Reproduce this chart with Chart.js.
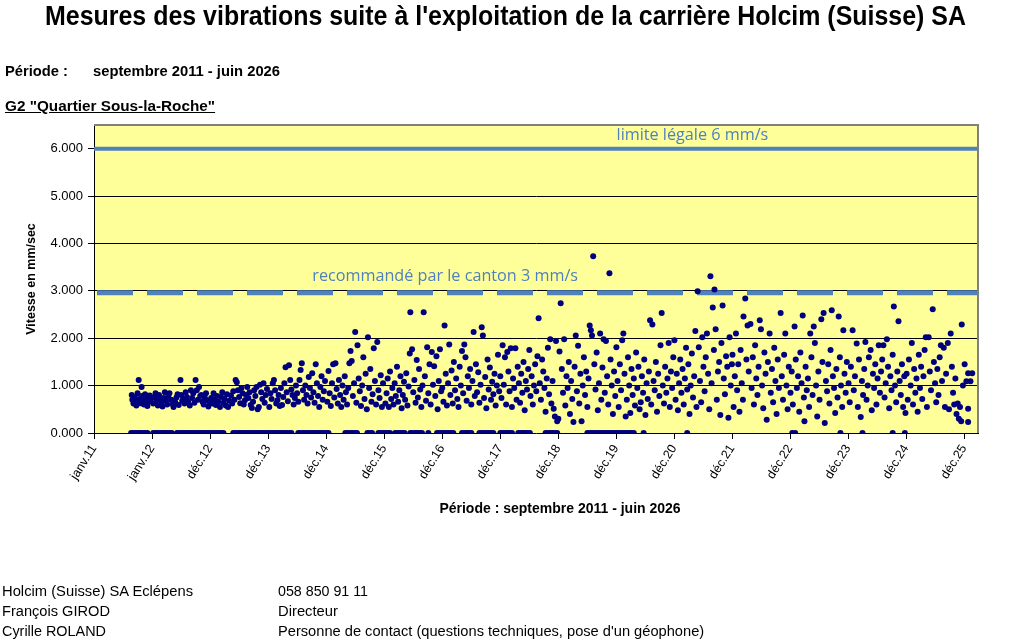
<!DOCTYPE html>
<html><head><meta charset="utf-8">
<script src="https://cdn.jsdelivr.net/npm/chart.js@4.4.1/dist/chart.umd.min.js"></script>
<style>
html,body{margin:0;padding:0;background:#fff;width:1009px;height:639px;overflow:hidden;font-family:"Liberation Sans",Arial,sans-serif;}
#wrap{position:relative;width:1009px;height:639px;}
#c{position:absolute;left:0;top:0;}
.t{position:absolute;white-space:nowrap;color:#000;transform-origin:0 50%;line-height:1;}
.b{font-weight:bold;}
</style></head>
<body><div id="wrap">
<canvas id="c" width="1009" height="639"></canvas>
<div class="t b fit" data-w="921" style="left:45px;top:3px;font-size:27px;font-family:'Liberation Sans Narrow','Liberation Sans',Arial;">Mesures des vibrations suite à l'exploitation de la carrière Holcim (Suisse) SA</div>
<div class="t b fit" data-w="63" style="left:5px;top:64px;font-size:14px;">Période :</div>
<div class="t b fit" data-w="187" style="left:93px;top:64px;font-size:14px;">septembre 2011 - juin 2026</div>
<div class="t b fit" data-w="210" style="left:5px;top:99px;font-size:14px;text-decoration:underline;">G2 "Quartier Sous-la-Roche"</div>
<div class="t fit" data-w="191" style="left:2px;top:584px;font-size:14px;">Holcim (Suisse) SA Eclépens</div>
<div class="t fit" data-w="108" style="left:2px;top:604px;font-size:14px;">François GIROD</div>
<div class="t fit" data-w="104" style="left:2px;top:624px;font-size:14px;">Cyrille ROLAND</div>
<div class="t fit" data-w="90" style="left:278px;top:584px;font-size:14px;">058 850 91 11</div>
<div class="t fit" data-w="60" style="left:278px;top:604px;font-size:14px;">Directeur</div>
<div class="t fit" data-w="426" style="left:278px;top:624px;font-size:14px;">Personne de contact (questions techniques, pose d'un géophone)</div>
</div>
<script>
// ---- DATA (x = date in decimal years, y = vitesse mm/s) ----
const xTickLabels = ['janv.11','janv.12','déc.12','déc.13','déc.14','déc.15','déc.16','déc.17','déc.18','déc.19','déc.20','déc.21','déc.22','déc.23','déc.24','déc.25'];
const xAxisTitle = 'Période : septembre 2011 - juin 2026';
const yAxisTitle = 'Vitesse en mm/sec';
const limiteLegale = 6;
const recommandeCanton = 2.96;
const limiteLabels = ['limite légale 6 mm/s', 'recommandé par le canton 3 mm/s'];

const m2011 = [[2011.65,0.80],[2011.66,0.70],[2011.68,0.62],[2011.70,0.75],[2011.71,0.66],[2011.73,0.58],[2011.75,0.84],[2011.77,1.12],[2011.78,0.72],[2011.80,0.63],[2011.82,0.97],[2011.83,0.78],[2011.85,0.68],[2011.86,0.60],[2011.88,0.82],[2011.90,0.74],[2011.92,0.57],[2011.94,0.66],[2011.96,0.79],[2011.98,0.71]];
const m2012 = [[2012.02,0.62],[2012.04,0.76],[2012.06,0.84],[2012.08,0.69],[2012.10,0.58],[2012.12,0.80],[2012.14,0.72],[2012.16,0.64],[2012.18,0.56],[2012.20,0.74],[2012.22,0.86],[2012.24,0.68],[2012.26,0.60],[2012.28,0.78],[2012.30,0.84],[2012.33,0.70],[2012.35,0.61],[2012.37,0.55],[2012.40,0.65],[2012.42,0.75],[2012.44,0.82],[2012.46,0.59],[2012.49,1.12],[2012.50,0.80],[2012.52,0.68],[2012.54,0.72],[2012.56,0.62],[2012.58,0.86],[2012.60,0.76],[2012.62,0.66],[2012.65,0.58],[2012.67,0.90],[2012.69,0.74],[2012.71,0.84],[2012.73,0.64],[2012.75,1.12],[2012.77,0.90],[2012.79,0.70],[2012.81,0.97],[2012.83,0.78],[2012.85,0.80],[2012.87,0.66],[2012.89,0.60],[2012.91,0.74],[2012.93,0.84],[2012.95,0.69],[2012.97,0.56],[2012.99,0.65]];
const m2013 = [[2013.02,0.74],[2013.04,0.62],[2013.06,0.84],[2013.08,0.70],[2013.10,0.59],[2013.12,0.78],[2013.14,0.66],[2013.17,0.55],[2013.19,0.76],[2013.21,0.86],[2013.23,0.64],[2013.25,0.72],[2013.27,0.58],[2013.29,0.82],[2013.31,0.55],[2013.33,0.68],[2013.36,0.79],[2013.38,0.62],[2013.40,0.88],[2013.42,0.70],[2013.44,1.12],[2013.46,1.07],[2013.48,0.90],[2013.50,0.76],[2013.52,0.63],[2013.54,0.95],[2013.56,0.84],[2013.58,0.60],[2013.60,0.69],[2013.62,0.80],[2013.64,0.97],[2013.66,0.74],[2013.68,0.86],[2013.70,0.59],[2013.72,0.53],[2013.74,0.66],[2013.76,0.90],[2013.78,0.78],[2013.80,0.97],[2013.82,0.50],[2013.84,0.55],[2013.86,1.02],[2013.88,0.86],[2013.90,0.72],[2013.92,1.05],[2013.94,0.64],[2013.96,0.80],[2013.98,0.93]];
const m2014 = [[2014.02,0.55],[2014.04,0.84],[2014.06,0.72],[2014.08,1.05],[2014.10,1.12],[2014.12,0.90],[2014.14,0.62],[2014.16,0.69],[2014.18,0.80],[2014.20,0.57],[2014.22,0.95],[2014.24,0.59],[2014.26,0.76],[2014.28,1.05],[2014.30,1.39],[2014.32,0.86],[2014.34,0.67],[2014.36,1.43],[2014.38,1.12],[2014.40,0.92],[2014.42,0.80],[2014.44,0.60],[2014.46,0.74],[2014.48,1.00],[2014.50,0.84],[2014.52,0.66],[2014.54,1.12],[2014.56,1.33],[2014.58,1.47],[2014.60,0.90],[2014.62,0.70],[2014.64,1.00],[2014.66,0.80],[2014.68,0.62],[2014.70,1.18],[2014.72,0.95],[2014.74,0.75],[2014.76,1.26],[2014.78,0.86],[2014.80,0.64],[2014.82,1.45],[2014.84,1.05],[2014.86,0.78],[2014.88,0.55],[2014.90,0.97],[2014.92,1.20],[2014.94,0.70],[2014.96,0.88],[2014.98,1.10]];
const m2015 = [[2015.02,0.66],[2015.04,1.31],[2015.06,0.84],[2015.08,0.57],[2015.10,1.05],[2015.12,1.45],[2015.14,0.75],[2015.16,1.47],[2015.18,0.93],[2015.20,0.62],[2015.22,1.12],[2015.24,0.80],[2015.26,0.55],[2015.28,1.00],[2015.30,0.70],[2015.32,1.20],[2015.34,0.86],[2015.36,0.60],[2015.38,0.95],[2015.40,1.47],[2015.42,1.73],[2015.44,1.52],[2015.46,0.78],[2015.48,1.05],[2015.50,2.13],[2015.52,0.64],[2015.54,1.85],[2015.56,1.15],[2015.58,0.88],[2015.60,0.57],[2015.62,1.00],[2015.64,1.60],[2015.66,0.72],[2015.68,1.25],[2015.70,0.50],[2015.72,2.02],[2015.74,0.95],[2015.76,1.35],[2015.78,0.66],[2015.80,0.82],[2015.82,1.79],[2015.84,1.10],[2015.86,0.60],[2015.88,1.92],[2015.90,0.90],[2015.92,0.74],[2015.94,1.22],[2015.96,0.55],[2015.98,1.05]];
const m2016 = [[2016.02,0.62],[2016.04,0.84],[2016.06,1.15],[2016.08,0.55],[2016.10,1.30],[2016.12,0.72],[2016.14,0.95],[2016.16,0.60],[2016.18,1.05],[2016.20,0.78],[2016.22,1.40],[2016.24,0.66],[2016.26,0.90],[2016.28,1.20],[2016.30,0.52],[2016.32,0.80],[2016.34,1.08],[2016.36,0.70],[2016.38,1.26],[2016.40,0.58],[2016.42,0.98],[2016.44,1.68],[2016.45,2.55],[2016.48,1.77],[2016.50,0.86],[2016.52,1.12],[2016.54,0.64],[2016.56,1.54],[2016.58,0.75],[2016.60,1.35],[2016.62,0.92],[2016.64,0.55],[2016.66,1.00],[2016.68,2.55],[2016.70,1.20],[2016.72,0.68],[2016.74,1.81],[2016.76,0.84],[2016.78,1.45],[2016.80,0.60],[2016.82,1.71],[2016.84,1.02],[2016.86,1.41],[2016.88,0.78],[2016.90,1.62],[2016.92,0.50],[2016.94,1.10],[2016.96,1.77],[2016.98,0.88]];
const m2017 = [[2017.00,0.95],[2017.02,0.66],[2017.04,2.27],[2017.06,1.25],[2017.08,0.58],[2017.10,1.05],[2017.12,1.87],[2017.14,0.80],[2017.16,1.32],[2017.18,0.62],[2017.20,1.50],[2017.22,0.90],[2017.24,1.15],[2017.26,0.72],[2017.28,0.55],[2017.30,1.40],[2017.32,1.00],[2017.34,1.73],[2017.36,0.84],[2017.38,1.87],[2017.40,1.60],[2017.42,0.68],[2017.44,1.20],[2017.46,0.95],[2017.48,1.35],[2017.50,0.60],[2017.52,1.10],[2017.54,2.13],[2017.56,0.78],[2017.58,1.45],[2017.60,0.86],[2017.62,1.28],[2017.64,0.64],[2017.66,1.02],[2017.68,2.23],[2017.70,2.06],[2017.72,0.74],[2017.74,1.18],[2017.76,0.52],[2017.78,1.55],[2017.80,0.92],[2017.82,1.38],[2017.84,0.70],[2017.86,1.08],[2017.88,0.82],[2017.90,1.25],[2017.92,0.58],[2017.94,1.00],[2017.96,1.65],[2017.98,0.88]];
const m2018 = [[2018.00,1.20],[2018.02,0.74],[2018.04,1.85],[2018.06,1.02],[2018.08,1.60],[2018.10,0.60],[2018.12,1.71],[2018.14,1.30],[2018.16,0.88],[2018.18,1.79],[2018.20,0.55],[2018.22,1.15],[2018.24,0.95],[2018.26,1.79],[2018.28,0.70],[2018.30,1.40],[2018.32,1.05],[2018.34,0.64],[2018.36,1.25],[2018.38,0.85],[2018.40,1.50],[2018.42,0.48],[2018.44,1.10],[2018.46,0.92],[2018.48,1.35],[2018.50,1.75],[2018.52,0.78],[2018.54,1.20],[2018.56,0.60],[2018.58,1.00],[2018.60,1.45],[2018.62,0.88],[2018.64,1.62],[2018.66,2.42],[2018.68,1.05],[2018.70,0.70],[2018.72,1.55],[2018.74,1.30],[2018.76,0.95],[2018.78,0.45],[2018.80,1.15],[2018.82,1.80],[2018.84,0.82],[2018.86,1.98],[2018.88,0.62],[2018.90,1.10],[2018.92,0.51],[2018.94,0.35],[2018.96,1.94],[2018.98,0.25]];
const m2019 = [[2019.00,0.30],[2019.02,1.72],[2019.04,2.74],[2019.06,1.35],[2019.08,0.85],[2019.10,1.98],[2019.12,0.58],[2019.14,1.20],[2019.16,0.95],[2019.18,1.50],[2019.20,0.40],[2019.22,1.10],[2019.24,0.72],[2019.26,0.23],[2019.28,1.40],[2019.30,2.06],[2019.32,0.88],[2019.34,1.84],[2019.36,0.62],[2019.38,1.25],[2019.40,0.25],[2019.42,1.00],[2019.44,1.60],[2019.46,0.80],[2019.48,1.30],[2019.50,0.55],[2019.52,1.15],[2019.54,2.27],[2019.56,2.17],[2019.58,2.06],[2019.60,3.73],[2019.62,1.45],[2019.64,0.92],[2019.66,1.70],[2019.68,0.48],[2019.70,1.05],[2019.72,2.10],[2019.74,0.70],[2019.76,1.38],[2019.78,1.98],[2019.80,0.85],[2019.82,1.94],[2019.84,1.20],[2019.86,0.60],[2019.88,3.37],[2019.90,1.55],[2019.92,1.00],[2019.94,0.40],[2019.96,1.30],[2019.98,0.78]];
const m2020 = [[2020.00,1.81],[2020.02,1.10],[2020.04,0.55],[2020.06,1.45],[2020.08,0.90],[2020.10,1.96],[2020.12,2.10],[2020.14,1.25],[2020.16,0.35],[2020.18,0.70],[2020.20,1.60],[2020.22,1.00],[2020.24,0.42],[2020.26,1.35],[2020.28,0.80],[2020.30,1.15],[2020.32,0.58],[2020.34,1.70],[2020.36,0.95],[2020.38,1.40],[2020.40,0.50],[2020.42,0.65],[2020.44,1.20],[2020.46,0.85],[2020.48,1.55],[2020.50,0.38],[2020.52,1.05],[2020.54,0.72],[2020.56,1.30],[2020.58,2.38],[2020.60,0.60],[2020.62,2.29],[2020.64,1.10],[2020.66,0.90],[2020.68,1.50],[2020.70,0.45],[2020.72,1.25],[2020.74,0.78],[2020.76,1.85],[2020.78,2.53],[2020.80,1.00],[2020.82,0.62],[2020.84,1.40],[2020.86,0.85],[2020.88,1.15],[2020.90,1.90],[2020.92,0.55],[2020.94,1.30],[2020.96,0.95],[2020.98,1.60]];
const m2021 = [[2021.00,1.96],[2021.02,0.70],[2021.04,1.25],[2021.06,0.48],[2021.08,1.05],[2021.10,1.55],[2021.12,0.85],[2021.14,1.35],[2021.16,0.60],[2021.18,1.15],[2021.20,1.80],[2021.22,0.92],[2021.24,1.45],[2021.26,0.40],[2021.28,1.00],[2021.30,1.68],[2021.32,0.75],[2021.34,1.20],[2021.36,2.15],[2021.38,0.55],[2021.40,2.99],[2021.42,1.81],[2021.44,1.10],[2021.46,0.65],[2021.48,2.02],[2021.50,1.40],[2021.52,0.88],[2021.54,1.60],[2021.56,2.10],[2021.58,1.25],[2021.60,0.50],[2021.62,3.31],[2021.64,1.05],[2021.66,2.65],[2021.68,1.75],[2021.69,3.03],[2021.71,2.19],[2021.73,0.70],[2021.75,1.30],[2021.77,1.50],[2021.79,0.38],[2021.81,1.90],[2021.83,2.69],[2021.85,1.15],[2021.87,0.82],[2021.89,1.62],[2021.91,1.40],[2021.93,0.32],[2021.95,2.02],[2021.97,1.00],[2021.99,1.45]];
const m2022 = [[2022.00,1.65],[2022.02,0.55],[2022.04,1.20],[2022.06,2.10],[2022.08,0.90],[2022.10,1.45],[2022.12,0.45],[2022.14,1.75],[2022.16,1.05],[2022.18,0.70],[2022.19,2.46],[2022.22,2.84],[2022.24,1.55],[2022.26,2.27],[2022.28,1.30],[2022.31,2.30],[2022.33,0.95],[2022.35,1.60],[2022.37,0.60],[2022.39,1.85],[2022.41,1.15],[2022.43,0.80],[2022.45,1.40],[2022.47,2.38],[2022.49,2.19],[2022.51,1.00],[2022.53,0.52],[2022.55,1.70],[2022.57,1.25],[2022.59,0.28],[2022.61,1.50],[2022.64,2.10],[2022.66,0.85],[2022.68,1.35],[2022.70,0.65],[2022.72,1.80],[2022.74,1.10],[2022.76,0.40],[2022.78,1.55],[2022.80,0.95],[2022.83,2.53],[2022.85,1.20],[2022.87,0.70],[2022.89,1.65],[2022.91,2.10],[2022.93,1.00],[2022.95,0.50],[2022.97,1.40]];
const m2023 = [[2023.00,0.85],[2023.02,1.30],[2023.04,0.60],[2023.07,2.25],[2023.09,1.55],[2023.11,0.95],[2023.13,1.20],[2023.15,0.45],[2023.17,1.70],[2023.19,1.05],[2023.21,2.48],[2023.23,0.75],[2023.24,0.25],[2023.26,1.40],[2023.28,0.90],[2023.30,1.15],[2023.32,0.55],[2023.34,2.10],[2023.36,1.60],[2023.38,0.80],[2023.40,2.25],[2023.42,1.90],[2023.44,1.00],[2023.46,0.35],[2023.48,1.30],[2023.50,0.70],[2023.53,2.40],[2023.55,1.50],[2023.57,2.53],[2023.59,0.21],[2023.61,1.10],[2023.63,0.88],[2023.65,1.45],[2023.67,0.62],[2023.69,1.75],[2023.71,2.59],[2023.73,1.20],[2023.75,0.95],[2023.77,0.42],[2023.79,1.35],[2023.81,0.75],[2023.83,2.46],[2023.85,1.60],[2023.87,1.00],[2023.89,0.55],[2023.91,2.17],[2023.93,1.25],[2023.95,0.85],[2023.97,1.50]];
const m2024 = [[2024.00,1.05],[2024.02,0.65],[2024.04,1.40],[2024.07,2.17],[2024.09,0.90],[2024.11,1.20],[2024.14,1.89],[2024.16,0.55],[2024.18,1.55],[2024.21,0.34],[2024.23,1.10],[2024.25,0.80],[2024.27,1.35],[2024.29,1.92],[2024.31,0.70],[2024.33,1.00],[2024.35,1.60],[2024.38,1.75],[2024.40,0.48],[2024.42,1.25],[2024.44,0.95],[2024.46,1.45],[2024.48,0.60],[2024.50,1.15],[2024.52,1.85],[2024.54,0.85],[2024.56,1.30],[2024.58,1.55],[2024.60,1.85],[2024.62,0.75],[2024.64,1.05],[2024.66,1.98],[2024.68,1.40],[2024.70,0.52],[2024.72,1.20],[2024.74,0.90],[2024.76,1.65],[2024.78,2.67],[2024.80,1.00],[2024.82,0.65],[2024.84,1.30],[2024.86,2.36],[2024.88,1.10],[2024.90,0.80],[2024.92,1.45],[2024.94,0.55],[2024.96,1.20],[2024.98,0.42]];
const m2025 = [[2025.00,1.25],[2025.02,0.70],[2025.04,1.55],[2025.07,1.00],[2025.09,1.90],[2025.11,0.60],[2025.13,1.35],[2025.15,0.85],[2025.17,1.15],[2025.19,0.45],[2025.21,1.65],[2025.23,0.95],[2025.25,1.40],[2025.27,0.72],[2025.29,1.20],[2025.31,1.75],[2025.33,2.02],[2025.35,0.55],[2025.38,2.02],[2025.40,1.30],[2025.42,0.90],[2025.45,2.61],[2025.47,1.50],[2025.49,1.05],[2025.51,0.65],[2025.53,1.35],[2025.55,0.80],[2025.57,1.60],[2025.59,1.85],[2025.61,1.10],[2025.64,1.80],[2025.66,0.55],[2025.68,1.25],[2025.71,1.90],[2025.73,0.50],[2025.76,2.10],[2025.78,1.40],[2025.80,0.85],[2025.82,0.60],[2025.84,1.15],[2025.86,0.40],[2025.88,0.62],[2025.90,0.30],[2025.92,0.55],[2025.94,0.25],[2025.95,2.29],[2025.97,1.00],[2026.00,1.45],[2026.03,1.09],[2026.06,1.26],[2026.06,0.51],[2026.06,0.23],[2026.10,1.09],[2026.13,1.26]];

// dates of measurements at 0.000 mm/s
const zeroDates = [2011.64,2011.68,2011.72,2011.76,2011.80,2011.84,2011.88,2011.92,
2012.02,2012.06,2012.10,2012.14,2012.18,2012.22,2012.26,2012.30,2012.34,
2012.43,2012.47,2012.51,2012.55,2012.59,2012.63,2012.67,2012.71,2012.75,2012.79,2012.83,2012.87,2012.91,2012.95,2012.99,2013.03,2013.07,2013.11,2013.15,2013.19,2013.23,
2013.40,2013.44,2013.48,2013.52,2013.56,2013.60,2013.64,2013.68,2013.72,2013.76,2013.80,2013.84,2013.88,2013.92,2013.96,2014.00,2014.04,2014.08,2014.12,2014.16,2014.20,2014.24,2014.28,2014.32,2014.36,2014.40,
2014.52,2014.56,2014.60,2014.64,2014.68,2014.72,2014.76,2014.80,2014.84,2014.88,2014.92,2014.96,2015.00,2015.04,
2015.33,2015.37,2015.41,2015.45,2015.49,2015.53,
2015.71,2015.75,2015.79,
2015.90,2015.94,2015.98,2016.02,2016.06,2016.10,
2016.19,2016.23,2016.27,2016.31,2016.35,
2016.45,2016.49,2016.53,2016.57,2016.61,2016.65,
2016.76,
2016.91,2016.95,2016.99,2017.03,2017.07,2017.11,2017.15,2017.19,
2017.34,2017.38,2017.42,2017.46,2017.50,
2017.64,2017.68,2017.72,2017.76,2017.80,2017.84,2017.88,
2018.00,2018.04,2018.08,2018.12,2018.16,2018.20,
2018.31,2018.35,2018.39,2018.43,2018.47,2018.51,
2018.78,2018.82,2018.86,2018.90,2018.94,2018.98,
2019.50,2019.54,2019.58,2019.62,2019.66,2019.70,2019.74,2019.78,2019.82,2019.86,2019.90,2019.94,2019.98,2020.02,2020.06,2020.10,2020.14,2020.18,2020.22,2020.26,2020.30,
2020.47,2021.22,2023.03,2023.08,2023.86,2024.24,2024.76,2024.97];

// ---- axis settings ----
const X_MIN = 2011, X_MAX = 2026.23, Y_MIN = 0, Y_MAX = 6.5;
const xTickValues = xTickLabels.map((_, k) => X_MIN + k * 365 / 365.25);
const yTickValues = [0, 1, 2, 3, 4, 5, 6];

const mesures = [].concat(m2011, m2012, m2013, m2014, m2015, m2016, m2017, m2018, m2019, m2020, m2021, m2022, m2023, m2024, m2025)
  .map(([x, y]) => ({x, y}));
const zeros = zeroDates.map(x => ({x, y: 0}));

const BLUE = '#4F81BD';
const labelPos = [{x: 2021.31, y: 6.29}, {x: 2017.05, y: 3.31}];

const decoPlugin = {
  id: 'deco',
  beforeDraw(chart) {
    const {ctx, chartArea: a} = chart;
    ctx.save();
    ctx.fillStyle = '#FFFF99';
    ctx.fillRect(a.left, a.top, a.right - a.left, a.bottom - a.top);
    ctx.restore();
  },
  afterDraw(chart) {
    const {ctx, chartArea: a, scales} = chart;
    ctx.save();
    ctx.strokeStyle = '#808080';
    ctx.lineWidth = 2;
    ctx.beginPath();
    ctx.moveTo(a.left, a.top); ctx.lineTo(a.right, a.top); ctx.lineTo(a.right, a.bottom);
    ctx.stroke();
    ctx.fillStyle = BLUE;
    ctx.font = '16.2px "Open Sans", sans-serif';
    ctx.textAlign = 'center';
    ctx.textBaseline = 'middle';
    limiteLabels.forEach((txt, i) => {
      ctx.fillText(txt, scales.x.getPixelForValue(labelPos[i].x), scales.y.getPixelForValue(labelPos[i].y));
    });
    // x axis title (centred where the reference places it)
    ctx.fillStyle = '#000';
    ctx.font = 'bold 14px "Liberation Sans", Arial, sans-serif';
    ctx.fillText(xAxisTitle, 560, 509);
    ctx.restore();
  }
};

Chart.defaults.font.family = '"Liberation Sans", Arial, sans-serif';
Chart.defaults.color = '#000';

new Chart(document.getElementById('c'), {
  type: 'scatter',
  data: {
    datasets: [
      {label: 'Mesures', data: mesures, backgroundColor: '#00007F', borderWidth: 0, pointRadius: 3, order: 0},
      {label: 'Zéro', data: zeros, backgroundColor: '#00007F', borderWidth: 0, pointRadius: 3, order: 0},
      {type: 'line', label: 'limite légale', data: [{x: X_MIN, y: limiteLegale}, {x: X_MAX, y: limiteLegale}],
        borderColor: BLUE, borderWidth: 4, pointRadius: 0, order: 2},
      {type: 'line', label: 'recommandé', data: [{x: X_MIN, y: recommandeCanton}, {x: X_MAX, y: recommandeCanton}],
        borderColor: BLUE, borderWidth: 5, borderDash: [36, 14], borderDashOffset: -3, pointRadius: 0, order: 2}
    ]
  },
  options: {
    responsive: false, animation: false, devicePixelRatio: 1,
    layout: {padding: {left: 0, right: 31, top: 125, bottom: 109}},
    plugins: {legend: {display: false}, tooltip: {enabled: false}},
    scales: {
      x: {
        type: 'linear', min: X_MIN, max: X_MAX,
        afterBuildTicks: s => { s.ticks = xTickValues.map(v => ({value: v})); },
        afterFit: s => { s.height = 97; },
        ticks: {autoSkip: false, maxRotation: 58, minRotation: 58, font: {size: 12.5}, color: '#000',
          callback: (v, i) => xTickLabels[i]},
        grid: {drawOnChartArea: false, drawTicks: true, tickLength: 6, color: '#000'},
        border: {color: '#000', width: 1},
        title: {display: false, text: xAxisTitle}
      },
      y: {
        type: 'linear', min: Y_MIN, max: Y_MAX,
        afterBuildTicks: s => { s.ticks = yTickValues.map(v => ({value: v})); },
        afterFit: s => { s.width = 94; },
        ticks: {font: {size: 13}, color: '#000', padding: 5, callback: v => v.toFixed(3)},
        grid: {color: c => (c.tick && c.tick.value > 0 && c.tick.value < 6) ? '#000' : 'rgba(0,0,0,0)',
          tickColor: '#000', tickLength: 6, lineWidth: 1},
        border: {color: '#000', width: 1},
        title: {display: true, text: yAxisTitle, color: '#000',
          font: {size: 12.5, weight: 'bold'}, padding: {top: 24, bottom: 0}}
      }
    }
  },
  plugins: [decoPlugin]
});

// fit HTML text widths to the reference
document.querySelectorAll('.fit').forEach(el => {
  const w = el.getBoundingClientRect().width;
  const target = parseFloat(el.dataset.w);
  if (w > 0) el.style.transform = 'scaleX(' + (target / w).toFixed(3) + ')';
});
</script>
</body></html>
